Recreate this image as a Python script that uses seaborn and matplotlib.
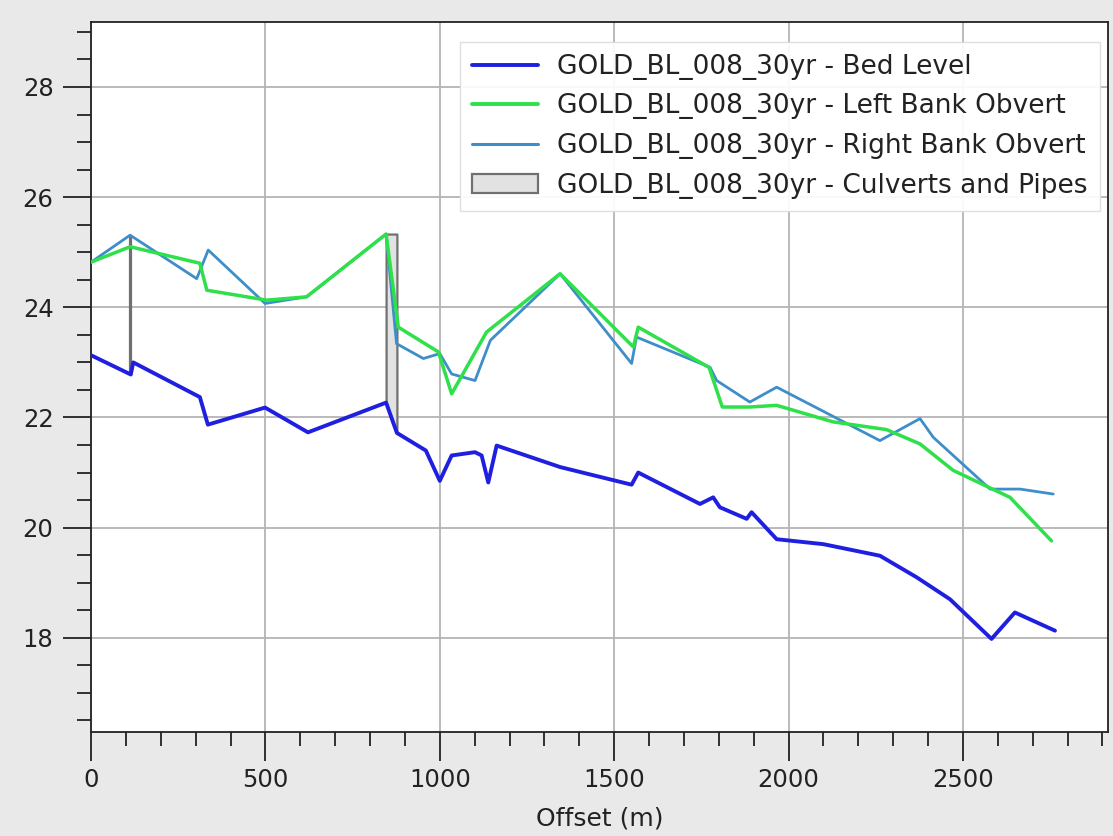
import matplotlib
matplotlib.use("Agg")
import matplotlib.pyplot as plt
from matplotlib.patches import Patch
from matplotlib.lines import Line2D
from matplotlib.ticker import MultipleLocator
import numpy as np
import pandas as pd
import seaborn as sns

# Long-section profile along the reach (offset in m, level in m)
bed_offset = [0, 114, 121, 312, 335, 499, 622, 846, 877, 960, 1000, 1034, 1101, 1120,
              1139, 1163, 1345, 1550, 1569, 1746, 1784, 1803, 1880, 1894, 1966, 2100,
              2262, 2367, 2463, 2582, 2649, 2764]
bed_level = [23.13, 22.78, 23.0, 22.37, 21.87, 22.18, 21.73, 22.27, 21.72, 21.40, 20.85,
             21.31, 21.37, 21.31, 20.82, 21.49, 21.1, 20.78, 21.0, 20.43, 20.55, 20.37,
             20.16, 20.28, 19.79, 19.7, 19.49, 19.1, 18.7, 17.98, 18.46, 18.13]

left_offset = [0, 112, 312, 332, 504, 618, 846, 881, 996, 1034, 1134, 1345, 1555, 1569,
               1772, 1810, 1889, 1966, 2128, 2281, 2377, 2472, 2635, 2754]
left_level = [24.82, 25.1, 24.8, 24.31, 24.13, 24.19, 25.33, 23.64, 23.19, 22.43, 23.55,
              24.61, 23.28, 23.64, 22.91, 22.19, 22.19, 22.22, 21.92, 21.78, 21.52, 21.04,
              20.55, 19.76]

right_offset = [0, 112, 303, 336, 499, 618, 846, 876, 953, 1000, 1034, 1101, 1145, 1345,
                1550, 1564, 1775, 1794, 1889, 1966, 2262, 2377, 2415, 2578, 2664, 2759]
right_level = [24.82, 25.31, 24.52, 25.04, 24.07, 24.19, 25.33, 23.34, 23.07, 23.16, 22.79,
               22.67, 23.4, 24.61, 22.98, 23.46, 22.91, 22.67, 22.28, 22.55, 21.58, 21.98,
               21.64, 20.7, 20.7, 20.61]

# Culvert / pipe structures: offsets of the two ends, soffit and invert at each end
culvert_x = [[113, 115], [846, 877]]
culvert_invert = [[22.8, 22.8], [22.27, 21.72]]
culvert_obvert = [[25.27, 25.27], [25.33, 25.33]]

run = "GOLD_BL_008_30yr"
bed_label = f"{run} - Bed Level"
left_label = f"{run} - Left Bank Obvert"
right_label = f"{run} - Right Bank Obvert"
culv_label = f"{run} - Culverts and Pipes"

bed_color = "#1f1fe0"
left_color = "#2ee04a"
right_color = "#3d8ec9"
culv_face = "#e2e2e2"
culv_edge = "#707070"
ink = "#222222"

sns.set_style("white")
plt.rcParams["font.family"] = ["DejaVu Sans"]

fig = plt.figure(figsize=(11.13, 8.36), dpi=100, facecolor="#e9e9e9")
ax = fig.add_axes([0.0818, 0.1244, 0.9137, 0.8493])
ax.set_facecolor("white")

# Culverts drawn as narrow grey boxes behind the lines
for xs, lo, hi in zip(culvert_x, culvert_invert, culvert_obvert):
    ax.fill_between(xs, lo, hi, facecolor=culv_face, edgecolor=culv_edge,
                    linewidth=1.6, zorder=2)

df_bed = pd.DataFrame({"offset": bed_offset, "level": bed_level})
df_left = pd.DataFrame({"offset": left_offset, "level": left_level})
df_right = pd.DataFrame({"offset": right_offset, "level": right_level})

sns.lineplot(data=df_right, x="offset", y="level", sort=False, color=right_color,
             linewidth=2.0, ax=ax, zorder=3)
sns.lineplot(data=df_left, x="offset", y="level", sort=False, color=left_color,
             linewidth=2.5, ax=ax, zorder=4)
sns.lineplot(data=df_bed, x="offset", y="level", sort=False, color=bed_color,
             linewidth=2.8, ax=ax, zorder=5)

ax.set_xlim(0, 2916)
ax.set_ylim(16.29, 29.18)
ax.xaxis.set_major_locator(MultipleLocator(500))
ax.xaxis.set_minor_locator(MultipleLocator(100))
ax.yaxis.set_major_locator(MultipleLocator(2))
ax.yaxis.set_minor_locator(MultipleLocator(0.5))
ax.tick_params(axis="both", which="major", direction="out", width=1.3,
               labelsize=17.5, color=ink, labelcolor=ink)
ax.tick_params(axis="both", which="minor", direction="out", length=10, width=1.3,
               color=ink)
ax.tick_params(axis="y", which="major", left=True, length=20, pad=7)
ax.tick_params(axis="x", which="major", bottom=True, length=21, pad=5)
ax.tick_params(axis="y", which="minor", left=True)
ax.tick_params(axis="x", which="minor", bottom=True)

ax.grid(True, which="major", color="#b4b4b4", linewidth=1.3)
for s in ax.spines.values():
    s.set_color(ink)
    s.set_linewidth(1.3)

ax.set_xlabel("Offset (m)", fontsize=18, color=ink, labelpad=10)
ax.set_ylabel("")

handles = [
    Line2D([], [], color=bed_color, linewidth=2.8),
    Line2D([], [], color=left_color, linewidth=2.8),
    Line2D([], [], color=right_color, linewidth=2.2),
    Patch(facecolor=culv_face, edgecolor=culv_edge, linewidth=1.6),
]
leg = ax.legend(handles, [bed_label, left_label, right_label, culv_label],
                loc="upper right", bbox_to_anchor=(0.992, 0.972), borderaxespad=0.0,
                fontsize=19, frameon=True, fancybox=False,
                framealpha=0.92, edgecolor="#dddddd",
                handlelength=2.5, handletextpad=0.75, labelspacing=0.52,
                borderpad=0.45)
leg.get_frame().set_linewidth(1.0)
for t in leg.get_texts():
    t.set_color(ink)

fig.savefig("out.png", dpi=100, facecolor=fig.get_facecolor())
